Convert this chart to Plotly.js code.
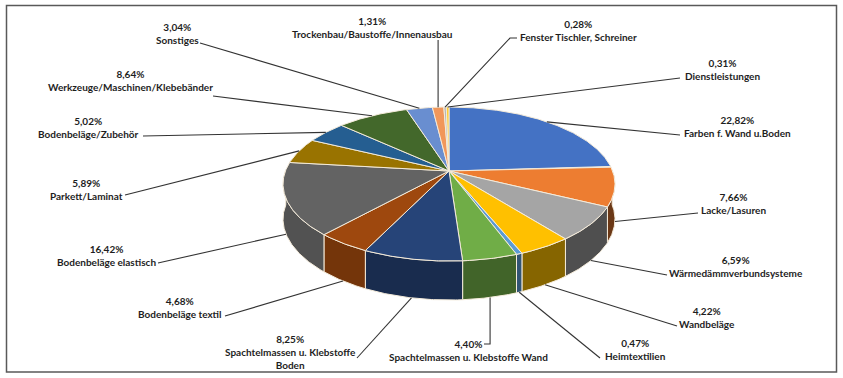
<!DOCTYPE html>
<html>
<head>
<meta charset="utf-8">
<script src="https://cdn.plot.ly/plotly-3.0.1.min.js"></script>
<style>html,body{margin:0;padding:0;background:#fff;}#chart{width:843px;height:378px;}</style>
</head>
<body>
<div id="chart"></div>
<script>
// ---- data (clockwise from 12 o'clock) ----
const categories = [
  'Farben f. Wand u.Boden', 'Lacke/Lasuren', 'Wärmedämmverbundsysteme', 'Wandbeläge',
  'Heimtextilien', 'Spachtelmassen u. Klebstoffe Wand', 'Spachtelmassen u. Klebstoffe<br>Boden',
  'Bodenbeläge textil', 'Bodenbeläge elastisch', 'Parkett/Laminat', 'Bodenbeläge/Zubehör',
  'Werkzeuge/Maschinen/Klebebänder', 'Sonstiges', 'Trockenbau/Baustoffe/Innenausbau',
  'Fenster Tischler, Schreiner', 'Dienstleistungen'
];
const shares = [22.82, 7.66, 6.59, 4.22, 0.47, 4.40, 8.25, 4.68, 16.42, 5.89, 5.02, 8.64, 3.04, 1.31, 0.28, 0.31];
const colors = ['#4472C4', '#ED7D31', '#A5A5A5', '#FFC000', '#5B9BD5', '#70AD47', '#264478', '#9E480E',
                '#636363', '#997300', '#255E91', '#43682B', '#698ED0', '#F1975A', '#B7B7B7', '#FFCD33'];

// ---- layout positions of the labels (pixel space): [centerX, centerY, leaderStartX, leaderStartY, style]
const labelPos = [
  [737, 126, 680, 135, 'd'],
  [733, 203, 698, 213, 'd'],
  [736, 266, 667, 275, 'd'],
  [707, 317, 677, 326, 'd'],
  [635, 349, 600, 358, 'd'],
  [468, 350, 484, 344, 'v'],
  [290, 352, 357, 358, 'd'],
  [180, 307, 225, 316, 'd'],
  [106, 255, 158, 263, 'd'],
  [86, 189, 125, 195, 'd'],
  [88, 127, 143, 136, 'd'],
  [130, 80, 213, 96, 'd'],
  [177, 33, 200, 43, 'd'],
  [372, 27, 438, 40, 'v2'],
  [578, 30, 517, 38, 'h'],
  [722, 69, 680, 78, 'd']
];

// ---- 3D pie geometry ----
const G = {cx: 449, cy: 171, A: 163.6, B: 74.8, k: 0.169, R: 10};
function proj(phiDeg) {
  const p = phiDeg + G.R * (1 - Math.cos(phiDeg * Math.PI / 180)) / 2;
  const r = p * Math.PI / 180;
  const x = Math.sin(r), z = -Math.cos(r);
  const den = 1 - G.k * z;
  return {x: G.cx + G.A * x / den, y: G.cy + G.B * z / den, z: z};
}
function depth(z) { return 35 + 4 * Math.max(z, 0) * Math.max(z, 0); }
function shade(hex, f) {
  const n = parseInt(hex.slice(1), 16);
  const r = Math.round(((n >> 16) & 255) * f), g = Math.round(((n >> 8) & 255) * f), b = Math.round((n & 255) * f);
  return 'rgb(' + r + ',' + g + ',' + b + ')';
}

const total = shares.reduce((a, b) => a + b, 0);
const edge = '#F4EBDA';
const wallTraces = [], topTraces = [];
let cum = 0;
const mids = [];
shares.forEach((v, i) => {
  const a0 = cum / total * 360, a1 = (cum + v) / total * 360;
  cum += v;
  mids.push((a0 + a1) / 2);
  const steps = Math.max(2, Math.ceil((a1 - a0) / 0.5));
  const arc = [];
  for (let s = 0; s <= steps; s++) arc.push(proj(a0 + (a1 - a0) * s / steps));
  // top face
  const tx = [G.cx], ty = [G.cy];
  arc.forEach(p => { tx.push(p.x); ty.push(p.y); });
  tx.push(G.cx); ty.push(G.cy);
  topTraces.push({type: 'scatter', mode: 'lines', x: tx, y: ty, fill: 'toself', fillcolor: colors[i],
    line: {color: edge, width: 1}, hoverinfo: 'skip', showlegend: false});
  // side wall (front part only)
  const vis = arc.filter(p => p.z > -0.02);
  if (vis.length >= 2) {
    const wx = [], wy = [];
    vis.forEach(p => { wx.push(p.x); wy.push(p.y); });
    for (let j = vis.length - 1; j >= 0; j--) { wx.push(vis[j].x); wy.push(vis[j].y + depth(vis[j].z)); }
    wx.push(vis[0].x); wy.push(vis[0].y);
    const mphi = (a0 + a1) / 2 * Math.PI / 180;
    const f = 0.65 - 0.2 * Math.sin(mphi);
    wallTraces.push({type: 'scatter', mode: 'lines', x: wx, y: wy, fill: 'toself', fillcolor: shade(colors[i], f),
      line: {color: edge, width: 1}, hoverinfo: 'skip', showlegend: false});
  }
});

// ---- labels and leader lines ----
const annotations = [], shapes = [];
const fmt = v => v.toFixed(2).replace('.', ',') + '%';
categories.forEach((c, i) => {
  const lp = labelPos[i];
  annotations.push({x: lp[0], y: lp[1], xref: 'x', yref: 'y', showarrow: false,
    text: '<b>' + fmt(shares[i]) + '<br>' + c + '</b>', align: 'center',
    font: {family: 'Lato, "Open Sans", sans-serif', size: 10, color: '#1e1e1e'}});
  const p = proj(mids[i]);
  const ex = p.x, ey = p.z > 0.1 ? p.y + depth(p.z) : p.y;
  let path;
  if (lp[4] === 'v') path = `M${lp[2]},${lp[3]} L${ex},${lp[3]} L${ex},${ey}`;
  else if (lp[4] === 'v2') path = `M${ex},${lp[3]} L${ex},${ey}`;
  else if (lp[4] === 'h') path = `M${lp[2]},${lp[3]} L${lp[2] - 7},${lp[3]} L${ex},${ey}`;
  else path = `M${lp[2]},${lp[3]} L${ex},${ey}`;
  shapes.push({type: 'path', xref: 'x', yref: 'y', path: path, line: {color: '#333333', width: 1.1}});
});
shapes.push({type: 'rect', xref: 'x', yref: 'y', x0: 6.5, y0: 5.5, x1: 836.5, y1: 372, line: {color: '#595959', width: 1.5}, layer: 'above'});

const layout = {
  width: 843, height: 378,
  margin: {l: 0, r: 0, t: 0, b: 0},
  paper_bgcolor: '#ffffff', plot_bgcolor: '#ffffff',
  xaxis: {range: [0, 843], visible: false, fixedrange: true},
  yaxis: {range: [378, 0], visible: false, fixedrange: true},
  showlegend: false,
  annotations: annotations,
  shapes: shapes
};
Plotly.newPlot('chart', wallTraces.concat(topTraces), layout, {staticPlot: true, displayModeBar: false});
</script>
</body>
</html>
